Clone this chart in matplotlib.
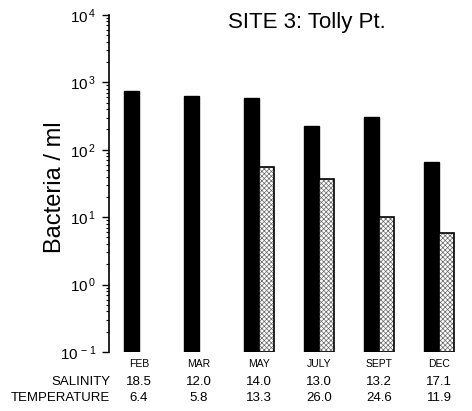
import numpy as np
import matplotlib
matplotlib.use('Agg')
import matplotlib.pyplot as plt
from matplotlib.ticker import LogLocator, FuncFormatter, NullFormatter

plt.rcParams['font.family'] = ['Liberation Sans', 'DejaVu Sans']
plt.rcParams['mathtext.fontset'] = 'custom'
plt.rcParams['mathtext.rm'] = 'Liberation Sans'
plt.rcParams['mathtext.default'] = 'regular'
plt.rcParams['hatch.linewidth'] = 0.5

# bacteria counts per ml, Tolly Pt.
months = ['FEB', 'MAR', 'MAY', 'JULY', 'SEPT', 'DEC']
total = [750, 630, 590, 225, 305, 66]
dotted = [np.nan, np.nan, 55, 37, 10, 5.8]
salinity = ['18.5', '12.0', '14.0', '13.0', '13.2', '17.1']
temperature = ['6.4', '5.8', '13.3', '26.0', '24.6', '11.9']

fig = plt.figure(figsize=(4.72, 4.11), dpi=100)
ax = fig.add_axes([0.231, 0.1436, 0.744, 0.82])

x = np.arange(len(months))
w = 0.25
ax.bar(x - w / 2, total, w, bottom=0.1, color='black', edgecolor='black')
# stippled bars: grey hatch fill, then a black outline on top
ax.bar(x + w / 2, np.array(dotted) - 0.1, w, bottom=0.1, color='white',
       edgecolor='#666666', hatch='xxxxxxx', linewidth=0)
ax.bar(x + w / 2, np.array(dotted) - 0.1, w, bottom=0.1, fill=False,
       edgecolor='black', linewidth=1.2)

ax.set_yscale('log')
ax.set_ylim(0.1, 1e4)
ax.set_xlim(-0.5, 5.35)
ax.yaxis.set_major_locator(LogLocator(base=10, numticks=10))
ax.yaxis.set_major_formatter(FuncFormatter(lambda v, p: r'$10^{\,%d}$' % round(np.log10(v))))
ax.yaxis.set_minor_locator(LogLocator(base=10, subs=np.arange(2, 10), numticks=10))
ax.yaxis.set_minor_formatter(NullFormatter())
ax.tick_params(axis='y', which='major', length=5, width=1, labelsize=11, direction='out', pad=4)
ax.tick_params(axis='y', which='minor', length=2.5, width=0.8)

ax.set_xticks(x)
ax.set_xticklabels(months, fontsize=7.5)
ax.tick_params(axis='x', length=0, pad=5)

for s in ['top', 'right', 'bottom']:
    ax.spines[s].set_visible(False)
ax.spines['left'].set_linewidth(1.2)

ax.set_ylabel('Bacteria / ml', fontsize=17)
ax.yaxis.set_label_coords(-0.122, 0.49)
fig.text(0.65, 0.946, 'SITE 3: Tolly Pt.', fontsize=16, ha='center', va='center')

trans = ax.get_xaxis_transform()
ax.text(-0.48, -0.089, 'SALINITY', transform=trans, ha='right', va='center', fontsize=9.5, clip_on=False)
ax.text(-0.48, -0.136, 'TEMPERATURE', transform=trans, ha='right', va='center', fontsize=9.5, clip_on=False)
for i in range(len(months)):
    ax.text(x[i], -0.089, salinity[i], transform=trans, ha='center', va='center', fontsize=9.5)
    ax.text(x[i], -0.136, temperature[i], transform=trans, ha='center', va='center', fontsize=9.5)

fig.savefig('out.png', dpi=100)
